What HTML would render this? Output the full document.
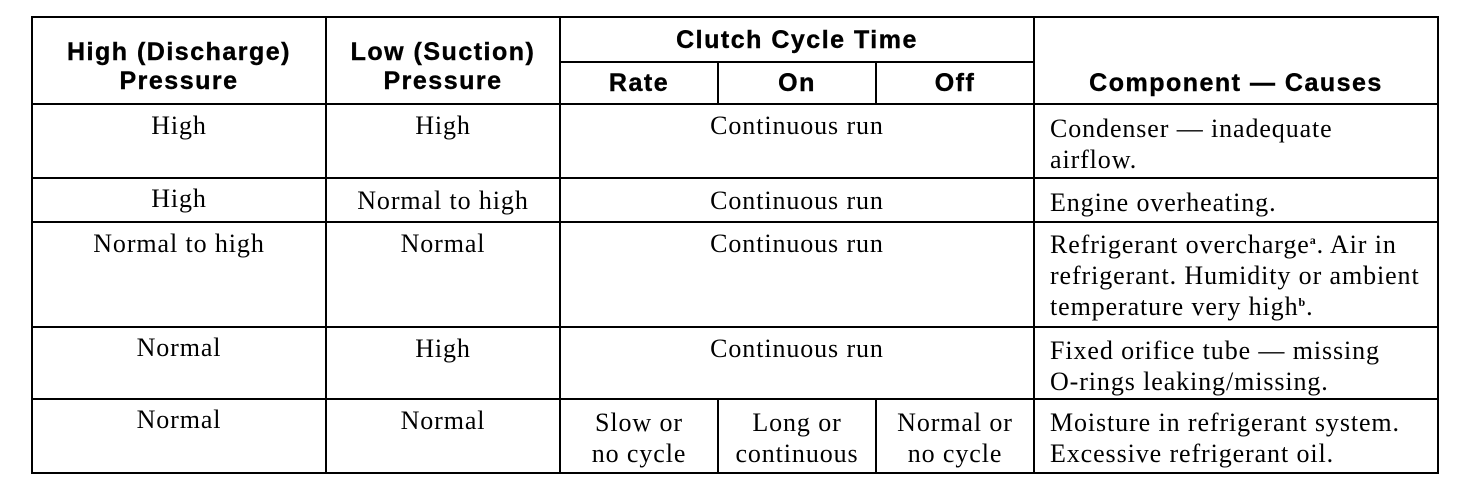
<!DOCTYPE html>
<html><head><style>
body{margin:0;width:1472px;height:494px;background:#fff;position:relative;overflow:hidden;color:#000}
.l{position:absolute;background:#000}
.h{position:absolute;font-family:"Liberation Sans",sans-serif;font-weight:bold;font-size:25px;letter-spacing:1.5px;line-height:29px;text-align:center;white-space:nowrap;-webkit-text-stroke:0.4px #000}
.t{position:absolute;font-family:"Liberation Serif",serif;font-size:26px;letter-spacing:0.9px;line-height:31px;text-align:center;white-space:nowrap}
.c{text-align:left}
sup{font-size:12px;vertical-align:9px;line-height:0;font-weight:bold}
</style></head><body>
<div class="l" style="left:31px;top:16px;width:1408px;height:2px"></div>
<div class="l" style="left:560px;top:61px;width:475px;height:2px"></div>
<div class="l" style="left:31px;top:103px;width:1408px;height:2px"></div>
<div class="l" style="left:31px;top:177px;width:1408px;height:2px"></div>
<div class="l" style="left:31px;top:221px;width:1408px;height:2px"></div>
<div class="l" style="left:31px;top:326px;width:1408px;height:2px"></div>
<div class="l" style="left:31px;top:398px;width:1408px;height:2px"></div>
<div class="l" style="left:31px;top:472px;width:1408px;height:2px"></div>
<div class="l" style="left:31px;top:16px;width:2px;height:458px"></div>
<div class="l" style="left:325px;top:16px;width:2px;height:458px"></div>
<div class="l" style="left:559px;top:16px;width:2px;height:458px"></div>
<div class="l" style="left:717px;top:61px;width:2px;height:44px"></div>
<div class="l" style="left:875px;top:61px;width:2px;height:44px"></div>
<div class="l" style="left:717px;top:398px;width:2px;height:76px"></div>
<div class="l" style="left:875px;top:398px;width:2px;height:76px"></div>
<div class="l" style="left:1033px;top:16px;width:2px;height:458px"></div>
<div class="l" style="left:1437px;top:16px;width:2px;height:458px"></div>
<div class="h" style="left:33px;top:38px;width:292px">High (Discharge)<br>Pressure</div>
<div class="h" style="left:327px;top:38px;width:232px">Low (Suction)<br>Pressure</div>
<div class="h" style="left:561px;top:26px;width:472px">Clutch Cycle Time</div>
<div class="h" style="left:561px;top:69px;width:156px">Rate</div>
<div class="h" style="left:719px;top:69px;width:156px">On</div>
<div class="h" style="left:877px;top:69px;width:156px">Off</div>
<div class="h" style="left:1035px;top:69px;width:402px">Component — Causes</div>
<div class="t" style="left:33px;top:110px;width:292px">High</div>
<div class="t" style="left:327px;top:110px;width:232px">High</div>
<div class="t" style="left:561px;top:110px;width:472px">Continuous run</div>
<div class="t c" style="left:1050px;top:113px;width:390px">Condenser — inadequate<br>airflow.</div>
<div class="t" style="left:33px;top:183px;width:292px">High</div>
<div class="t" style="left:327px;top:185px;width:232px">Normal to high</div>
<div class="t" style="left:561px;top:185px;width:472px">Continuous run</div>
<div class="t c" style="left:1050px;top:187px;width:390px">Engine overheating.</div>
<div class="t" style="left:33px;top:228px;width:292px">Normal to high</div>
<div class="t" style="left:327px;top:228px;width:232px">Normal</div>
<div class="t" style="left:561px;top:228px;width:472px">Continuous run</div>
<div class="t c" style="left:1050px;top:229px;width:390px">Refrigerant overcharge<sup>a</sup>. Air in<br>refrigerant. Humidity or ambient<br>temperature very high<sup>b</sup>.</div>
<div class="t" style="left:33px;top:332px;width:292px">Normal</div>
<div class="t" style="left:327px;top:333px;width:232px">High</div>
<div class="t" style="left:561px;top:333px;width:472px">Continuous run</div>
<div class="t c" style="left:1050px;top:335px;width:390px">Fixed orifice tube — missing<br>O-rings leaking/missing.</div>
<div class="t" style="left:33px;top:404px;width:292px">Normal</div>
<div class="t" style="left:327px;top:405px;width:232px">Normal</div>
<div class="t" style="left:561px;top:407px;width:156px">Slow or<br>no cycle</div>
<div class="t" style="left:719px;top:407px;width:156px">Long or<br>continuous</div>
<div class="t" style="left:877px;top:407px;width:156px">Normal or<br>no cycle</div>
<div class="t c" style="left:1050px;top:407px;width:390px">Moisture in refrigerant system.<br>Excessive refrigerant oil.</div>
</body></html>
